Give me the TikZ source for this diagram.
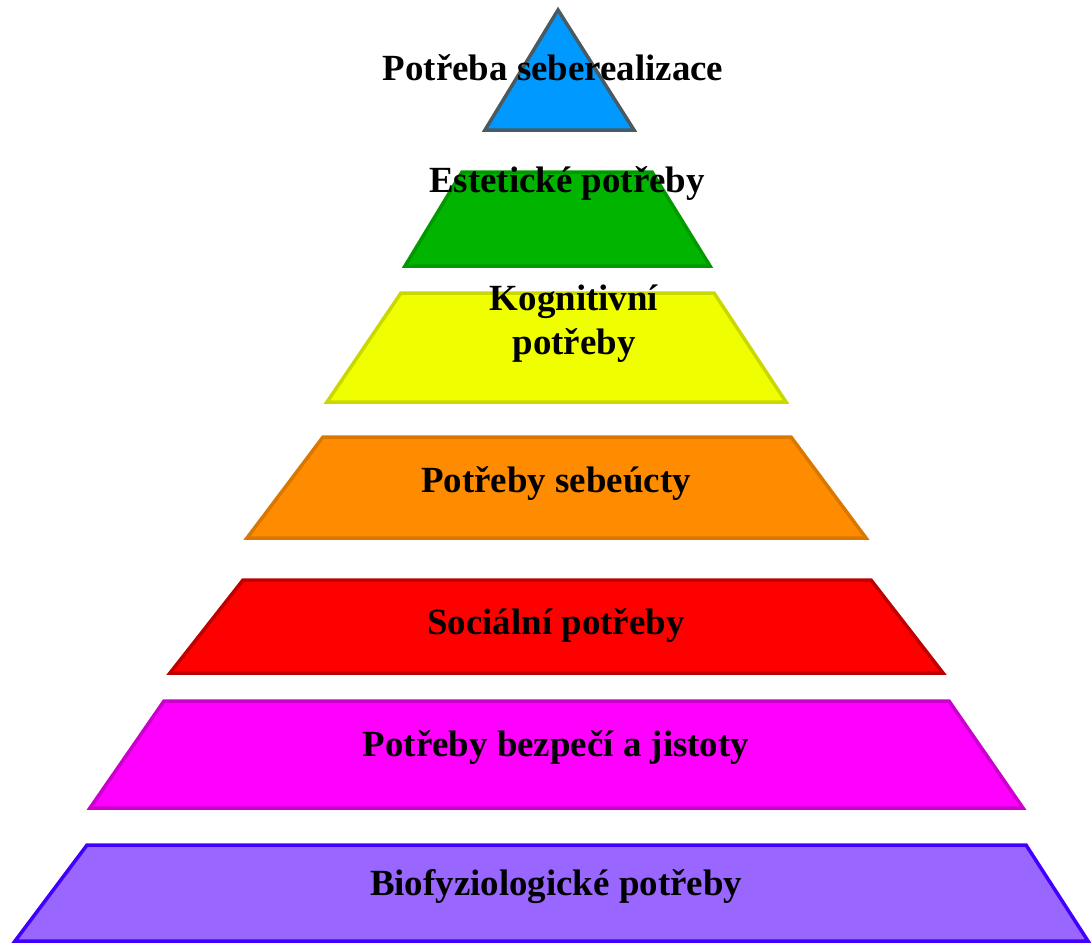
\documentclass[tikz,border=0pt]{standalone}
\usepackage{fontspec}
\setmainfont{Liberation Serif}
\definecolor{selfblue}{HTML}{0099FF}
\definecolor{selfedge}{HTML}{4A5A62}
\definecolor{estgreen}{HTML}{00B400}
\definecolor{estedge}{HTML}{009A00}
\definecolor{kogyellow}{HTML}{F0FF00}
\definecolor{kogedge}{HTML}{CAD800}
\definecolor{esteemorange}{HTML}{FF8C00}
\definecolor{esteemedge}{HTML}{D97700}
\definecolor{socred}{HTML}{FF0000}
\definecolor{socedge}{HTML}{C00000}
\definecolor{safemagenta}{HTML}{FF00FF}
\definecolor{safeedge}{HTML}{CC00CC}
\definecolor{biopurple}{HTML}{9966FF}
\definecolor{bioedge}{HTML}{4000FF}

\begin{document}
\begin{tikzpicture}[x=0.02cm, y=-0.02cm,
        tier/.style={line width=0.07cm, line join=miter},
        every node/.style={font=\fontsize{21}{25}\selectfont\bfseries, text=black, align=center}]
      \useasboundingbox (0,0) rectangle (1091,946);
      % levels of the pyramid, top to bottom
      \filldraw[tier, fill=selfblue, draw=selfedge] (558,10) -- (634,130) -- (485,130) -- cycle;
      \filldraw[tier, fill=estgreen, draw=estedge] (462,172) -- (652,172) -- (710,266) -- (405,266) -- cycle;
      \filldraw[tier, fill=kogyellow, draw=kogedge] (401,293) -- (714,293) -- (786,402) -- (327,402) -- cycle;
      \filldraw[tier, fill=esteemorange, draw=esteemedge] (323,437) -- (791,437) -- (866,538) -- (247,538) -- cycle;
      \filldraw[tier, fill=socred, draw=socedge] (243,580) -- (871,580) -- (943,673) -- (170,673) -- cycle;
      \filldraw[tier, fill=safemagenta, draw=safeedge] (164,701) -- (949,701) -- (1023,808) -- (90,808) -- cycle;
      \filldraw[tier, fill=biopurple, draw=bioedge] (87,845) -- (1026,845) -- (1088,941) -- (15,941) -- cycle;
      % labels
      \node (seberealizace) at (553,68) {Potřeba seberealizace};
      \node (esteticke) at (567,183) {Estetické potřeby};
      \node (kognitivni) at (574,324) {Kognitivní\\potřeby};
      \node (sebeucta) at (556,483) {Potřeby sebeúcty};
      \node (socialni) at (556,625) {Sociální potřeby};
      \node (bezpeci) at (556,747) {Potřeby bezpečí a jistoty};
      \node (biofyz) at (556,887) {Biofyziologické potřeby};
\end{tikzpicture}
\end{document}
